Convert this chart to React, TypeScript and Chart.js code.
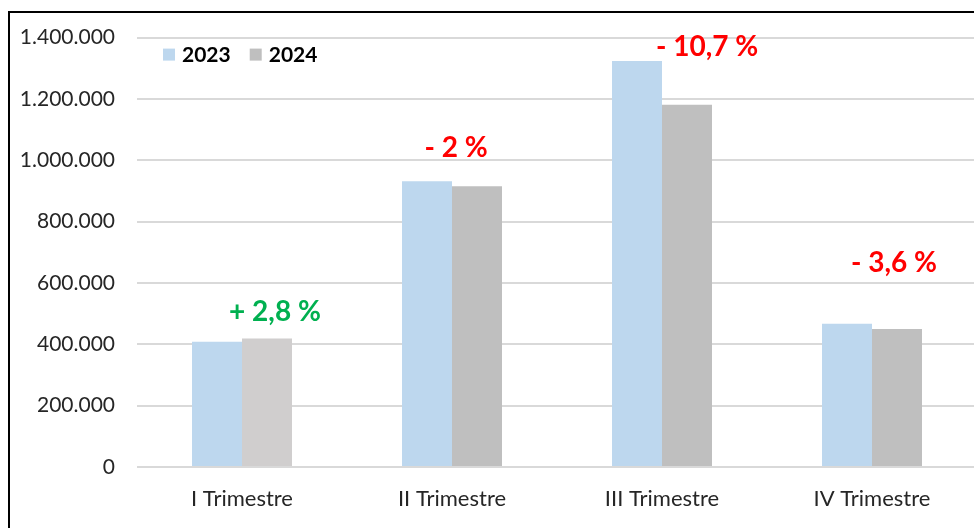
import React, { useEffect, useRef } from "react";
import { Chart, registerables } from "chart.js";

Chart.register(...registerables);

const categories = ["I Trimestre", "II Trimestre", "III Trimestre", "IV Trimestre"];
const seriesNames = ["2023", "2024"];
const values2023 = [408000, 932000, 1324000, 467000];
const values2024 = [419000, 915000, 1181000, 450000];
const changeLabels = ["+ 2,8 %", "- 2 %", "- 10,7 %", "- 3,6 %"];
const changeAnchorValues = [507000, 1039000, 1371000, 666000];
const yTicks = [0, 200000, 400000, 600000, 800000, 1000000, 1200000, 1400000];

const colors2023 = "#BDD7EE";
const colors2024 = ["#D0CECE", "#BFBFBF", "#BFBFBF", "#BFBFBF"];
const changeColors = ["#00B050", "#FF0000", "#FF0000", "#FF0000"];
const changeOffsets = [0.157, 0.02, 0.215, 0.105]; // fraction of category width

const fmt = (v: number) => v.toLocaleString("de-DE");

const FONT = "Lato, 'Open Sans', sans-serif";

const overlayPlugin = {
  id: "overlay",
  afterDatasetsDraw(chart: any) {
    const { ctx, chartArea, scales } = chart;
    const x = scales.x;
    const y = scales.y;
    const catW = (chartArea.right - chartArea.left) / categories.length;
    ctx.save();
    ctx.font = `bold 28px ${FONT}`;
    ctx.textAlign = "center";
    ctx.textBaseline = "middle";
    changeLabels.forEach((t, i) => {
      ctx.fillStyle = changeColors[i];
      ctx.fillText(t, x.getPixelForValue(i) + changeOffsets[i] * catW, y.getPixelForValue(changeAnchorValues[i]));
    });
    const lx = chartArea.left + 26;
    const ly = chartArea.top + 17;
    ctx.font = `bold 21px ${FONT}`;
    ctx.textAlign = "left";
    ctx.textBaseline = "middle";
    let cx = lx;
    const legendColors = [colors2023, "#BFBFBF"];
    seriesNames.forEach((n, i) => {
      ctx.fillStyle = legendColors[i];
      ctx.fillRect(cx, ly - 6, 12, 12);
      ctx.fillStyle = "#000000";
      ctx.fillText(n, cx + 19, ly + 1);
      cx += 19 + ctx.measureText(n).width + 19;
    });
    ctx.restore();
  },
};

export default function App() {
  const ref = useRef<HTMLCanvasElement>(null);
  useEffect(() => {
    if (!ref.current) return;
    const chart = new Chart(ref.current, {
      type: "bar",
      data: {
        labels: categories,
        datasets: [
          { label: seriesNames[0], data: values2023, backgroundColor: colors2023, categoryPercentage: 100 / 210, barPercentage: 1 },
          { label: seriesNames[1], data: values2024, backgroundColor: colors2024, categoryPercentage: 100 / 210, barPercentage: 1 },
        ],
      },
      options: {
        animation: false,
        responsive: false,
        layout: { padding: { top: 13, right: 3, left: 0, bottom: 0 } },
        plugins: { legend: { display: false }, tooltip: { enabled: false } },
        scales: {
          x: {
            grid: { display: false, drawTicks: false },
            border: { display: false },
            ticks: { color: "#262626", font: { family: FONT, size: 22 }, padding: 19 },
            afterFit(scale: any) { scale.height = 76; },
          },
          y: {
            min: 0,
            max: 1400000,
            afterBuildTicks(scale: any) { scale.ticks = yTicks.map((v) => ({ value: v })); },
            grid: { color: "#D9D9D9", lineWidth: 2, drawTicks: false },
            border: { display: false },
            ticks: { color: "#262626", font: { family: FONT, size: 21 }, padding: 22, callback: (v: any) => fmt(Number(v)) },
            afterFit(scale: any) { scale.width = 127; },
          },
        },
      },
      plugins: [overlayPlugin],
    });
    return () => chart.destroy();
  }, []);
  return (
    <div style={{ position: "fixed", left: 0, top: 0, width: 974, height: 528, overflow: "hidden", background: "#fff" }}>
      <div style={{ position: "absolute", left: 8, top: 11, width: 990, height: 560, border: "2px solid #000", background: "#fff" }}>
        <canvas ref={ref} width={970} height={540} style={{ display: "block", position: "relative", top: -10, width: 970, height: 540 }} />
      </div>
    </div>
  );
}
